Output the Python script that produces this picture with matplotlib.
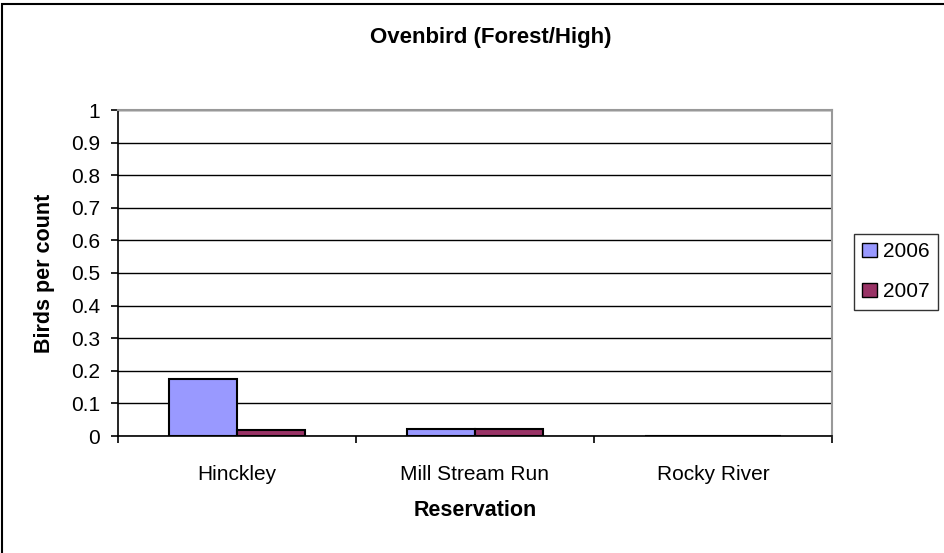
import matplotlib
matplotlib.use("Agg")
import matplotlib.pyplot as plt
import numpy as np
from matplotlib.patches import Rectangle

plt.rcParams['font.family'] = ['Liberation Sans', 'DejaVu Sans']

categories = ["Hinckley", "Mill Stream Run", "Rocky River"]
years = ["2006", "2007"]
birds_2006 = [0.175, 0.0215, 0.0]
birds_2007 = [0.0175, 0.0215, 0.0]
y_ticks = [0, 0.1, 0.2, 0.3, 0.4, 0.5, 0.6, 0.7, 0.8, 0.9, 1]

W, H = 944, 553
fig = plt.figure(figsize=(W / 100, H / 100), dpi=100)
ax = fig.add_axes([118 / W, 1 - 436 / H, (832 - 118) / W, (436 - 110) / H])

x = np.arange(len(categories))
bw = 1 / 3.5
ax.bar(x - bw / 2, birds_2006, bw, color="#9999FF", edgecolor="black",
       linewidth=1.5, label=years[0], zorder=3)
ax.bar(x + bw / 2, birds_2007, bw, color="#993366", edgecolor="black",
       linewidth=1.5, label=years[1], zorder=3)

ax.set_xlim(-0.5, len(categories) - 0.5)
ax.set_ylim(0, 1)
ax.set_yticks(y_ticks)
ax.set_yticklabels([f"{v:g}" for v in y_ticks], fontsize=15)
ax.yaxis.grid(True, color="black", linewidth=1.0, zorder=0)

# category boundaries get tick marks, labels sit between them
ax.set_xticks(np.arange(-0.5, len(categories)), minor=False)
ax.set_xticklabels([])
ax.set_xticks(x, minor=True)
ax.set_xticklabels(categories, minor=True, fontsize=15)
ax.tick_params(axis="x", which="major", direction="out", length=5, width=1.2)
ax.tick_params(axis="x", which="minor", length=0, pad=21)
ax.tick_params(axis="y", direction="out", length=5, width=1.2, pad=8)

for side in ["top", "right"]:
    ax.spines[side].set_color("#999999")
    ax.spines[side].set_linewidth(1.5)
for side in ["left", "bottom"]:
    ax.spines[side].set_color("black")
    ax.spines[side].set_linewidth(1.2)

fig.text(491 / W, 1 - 37 / H, "Ovenbird (Forest/High)", ha="center", va="center",
         fontsize=16, fontweight="bold")
fig.text(475 / W, 1 - 510 / H, "Reservation", ha="center", va="center",
         fontsize=15.5, fontweight="bold")
fig.text(45 / W, 1 - 273 / H, "Birds per count", ha="center", va="center",
         rotation=90, fontsize=15.5, fontweight="bold")

leg = fig.legend(loc="upper left", bbox_to_anchor=(854 / W, 1 - 234 / H),
                 borderaxespad=0, fontsize=15, handlelength=0.7,
                 handleheight=0.7, handletextpad=0.3, labelspacing=1.0,
                 borderpad=0.4, fancybox=False, edgecolor="black")
leg.get_frame().set_linewidth(1.0)
for h in leg.legend_handles:
    h.set_linewidth(1.0)

# outer chart border (right and bottom edges run off the image)
fig.patches.append(Rectangle((2 / W, -0.1), 1.2, 1 - 4 / H + 0.1,
                             transform=fig.transFigure, fill=False,
                             edgecolor="black", linewidth=1.5))

fig.savefig("out.png", dpi=100)
